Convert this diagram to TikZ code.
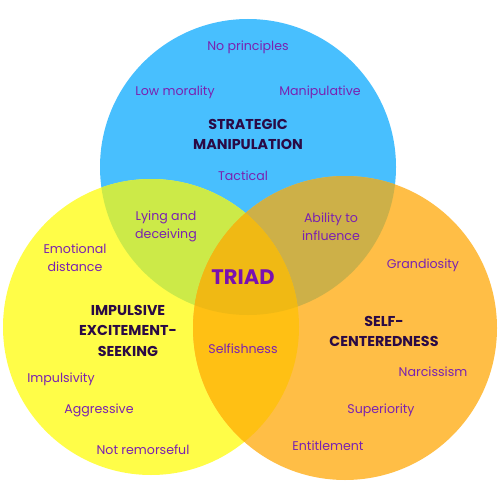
\documentclass[tikz,border=0pt]{standalone}
\usepackage{fontspec}
\setmainfont{Poppins}
\definecolor{cB}{HTML}{48BFFE}
\definecolor{cY}{HTML}{FFFD48}
\definecolor{cO}{HTML}{FFBE46}
\definecolor{cBY}{HTML}{CCEA48}
\definecolor{cBO}{HTML}{CDB048}
\definecolor{cYO}{HTML}{FFC014}
\definecolor{cBYO}{HTML}{F0B914}
\definecolor{itemc}{HTML}{7A22B0}
\definecolor{headc}{HTML}{2A0A45}
\definecolor{triadc}{HTML}{7A10B0}
\tikzset{
  item/.style={text=itemc, font=\fontsize{12.6}{18}\selectfont, align=center, inner sep=0pt},
  head/.style={text=headc, font=\fontsize{14.3}{20.5}\selectfont\bfseries, align=center, inner sep=0pt},
  triad/.style={text=triadc, font=\fontsize{21}{24}\selectfont\bfseries, inner sep=0pt}
}
\begin{document}
\begin{tikzpicture}[x=1pt,y=-1pt]
\useasboundingbox (0,0) rectangle (500,500);
\def\cB{(248,167) circle[radius=148]}
\def\cY{(151,327) circle[radius=148]}
\def\cO{(345,328) circle[radius=152]}
\fill[cB] \cB;
\fill[cY] \cY;
\fill[cO] \cO;
\begin{scope}
  \clip \cB;
  \fill[cBY] \cY;
  \fill[cBO] \cO;
\end{scope}
\begin{scope}
  \clip \cY;
  \fill[cYO] \cO;
\end{scope}
\begin{scope}
  \clip \cB;
  \clip \cY;
  \fill[cBYO] \cO;
\end{scope}
\begin{scope}[yshift=-1.6pt]
\node[item] (np) at (248,46) {No principles};
\node[item] (lm) at (175,91) {Low morality};
\node[item] (mp) at (320,91) {Manipulative};
\node[head] (sm) at (248,133) {STRATEGIC\\MANIPULATION};
\node[item] (tc) at (243,174) {Tactical};
\node[item] (ld) at (166,225) {Lying and\\deceiving};
\node[item] (ai) at (331,225) {Ability to\\influence};
\node[item] (ed) at (75,256) {Emotional\\distance};
\node[triad] (tr) at (243,276) {TRIAD};
\node[item] (gr) at (423,264) {Grandiosity};
\node[head] (ie) at (128,329) {IMPULSIVE\\EXCITEMENT-\\SEEKING};
\node[head] (sc) at (384,330) {SELF-\\CENTEREDNESS};
\node[item] (sf) at (243,347) {Selfishness};
\node[item] (nc) at (433,370) {Narcissism};
\node[item] (im) at (61,378) {Impulsivity};
\node[item] (su) at (381,409) {Superiority};
\node[item] (ag) at (99,409) {Aggressive};
\node[item] (nr) at (143,448) {Not remorseful};
\node[item] (en) at (328,444) {Entitlement};
\end{scope}
\end{tikzpicture}
\end{document}
